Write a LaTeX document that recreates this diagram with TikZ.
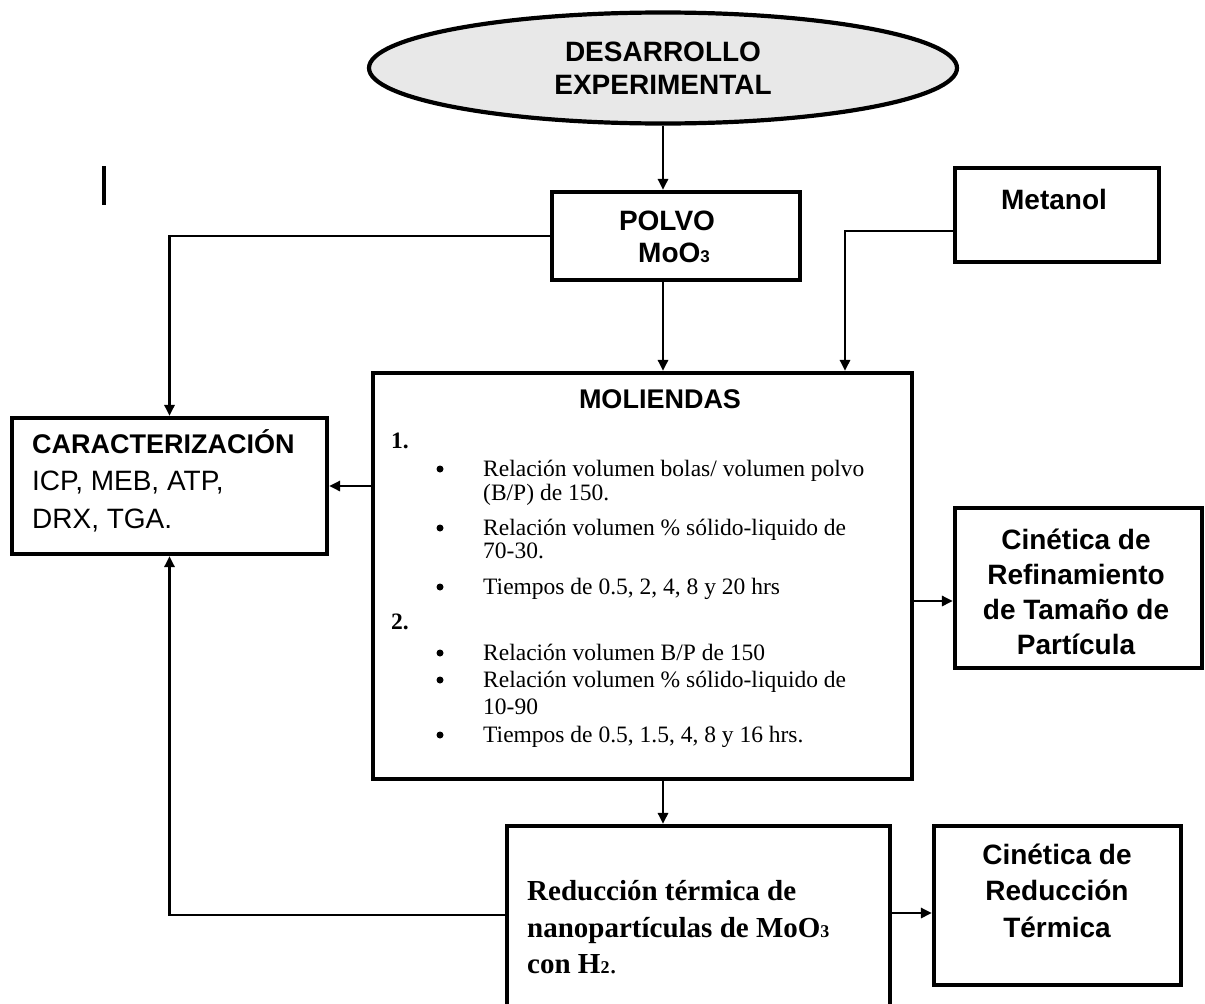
\documentclass[tikz,border=0pt]{standalone}
\usepackage{fontspec}
\setmainfont{Liberation Serif}
\newfontfamily\arialf{Liberation Sans}
\usetikzlibrary{shapes.geometric,arrows.meta}
\definecolor{ellgray}{RGB}{232,232,232}
\tikzset{
  box/.style={draw,line width=4.2pt,rectangle,inner sep=0pt},
  conn/.style={line width=2.8pt,-{Triangle[length=11pt,width=10pt]}},
  hb/.style={font=\fontsize{28}{33}\selectfont\arialf\bfseries,anchor=base,inner sep=0pt},
  hbs/.style={font=\fontsize{27}{33}\selectfont\arialf\bfseries,anchor=base,inner sep=0pt},
  hr/.style={font=\fontsize{28}{33}\selectfont\arialf,anchor=base west,inner sep=0pt},
  lst/.style={font=\fontsize{23.5}{26}\selectfont,anchor=base west,inner sep=0pt},
  bul/.style={circle,fill=black,inner sep=0pt,minimum size=7pt},
  lnum/.style={font=\fontsize{23.5}{26}\selectfont\bfseries,anchor=base west,inner sep=0pt},
  tb/.style={font=\fontsize{29}{33}\selectfont\bfseries,anchor=base west,inner sep=0pt},
}
\begin{document}
\begin{tikzpicture}[x=1pt,y=-1pt]
\useasboundingbox (0,0) rectangle (1205,1004);
\fill[white] (0,0) rectangle (1205,1004);

% stray mark
\draw[line width=4pt] (104,166) -- (104,205);

% ellipse
\node[ellipse,draw,line width=4.2pt,fill=ellgray,minimum width=588pt,minimum height=111pt,inner sep=0pt] (ell) at (663,68) {};
\node[hb] (e1) at (663,61) {DESARROLLO};
\node[hb] (e2) at (663,94) {EXPERIMENTAL};

% POLVO
\node[box,minimum width=248pt,minimum height=88pt] (polvo) at (676,236) {};
\node[hb] (p1) at (667,230) {POLVO};
\node[hb] (p2) at (674,262) {MoO{\fontsize{17}{17}\selectfont 3}};

% Metanol
\node[box,minimum width=204pt,minimum height=94pt] (met) at (1057,215) {};
\node[hb] (m1) at (1054,209) {Metanol};

% MOLIENDAS
\node[box,minimum width=539pt,minimum height=406pt] (mol) at (642.5,576) {};
\node[hbs] (mh) at (660,408) {MOLIENDAS};
\node[lnum] (n1) at (391,448) {1.};
\node[bul] (b1) at (440,469) {};
\node[lst] (l1) at (483,476) {Relación volumen bolas/ volumen polvo};
\node[lst] (l2) at (483,500) {(B/P) de 150.};
\node[bul] (b2) at (440,528) {};
\node[lst] (l3) at (483,535) {Relación volumen \% sólido-liquido de};
\node[lst] (l4) at (483,558) {70-30.};
\node[bul] (b3) at (440,587) {};
\node[lst] (l5) at (483,594) {Tiempos de 0.5, 2, 4, 8 y 20 hrs};
\node[lnum] (n2) at (391,629) {2.};
\node[bul] (b4) at (440,653) {};
\node[lst] (l6) at (483,660) {Relación volumen B/P de 150};
\node[bul] (b5) at (440,680) {};
\node[lst] (l7) at (483,687) {Relación volumen \% sólido-liquido de};
\node[lst] (l8) at (483,714) {10-90};
\node[bul] (b6) at (440,735) {};
\node[lst] (l9) at (483,742) {Tiempos de 0.5, 1.5, 4, 8 y 16 hrs.};

% CARACTERIZACION
\node[box,minimum width=315pt,minimum height=136pt] (car) at (169.5,486) {};
\node[hbs,anchor=base west] (c1) at (32,453) {CARACTERIZACIÓN};
\node[hr] (c2) at (32,490) {ICP, MEB, ATP,};
\node[hr] (c3) at (32,528) {DRX, TGA.};

% Cinetica de refinamiento
\node[box,minimum width=247pt,minimum height=160pt] (cr) at (1078.5,588) {};
\node[hb] (cr1) at (1076,549) {Cinética de};
\node[hb] (cr2) at (1076,584) {Refinamiento};
\node[hb] (cr3) at (1076,619) {de Tamaño de};
\node[hb] (cr4) at (1076,654) {Partícula};

% Reduccion termica
\node[box,minimum width=383pt,minimum height=190pt] (red) at (698.5,921) {};
\node[tb] (r1) at (527,900) {Reducción térmica de};
\node[tb] (r2) at (527,937) {nanopartículas de MoO{\fontsize{18}{18}\selectfont 3}};
\node[tb] (r3) at (527,973) {con H{\fontsize{18}{18}\selectfont 2}{\mdseries.}};

% Cinetica de reduccion
\node[box,minimum width=247pt,minimum height=159pt] (cred) at (1057.5,905.5) {};
\node[hb] (cd1) at (1057,864) {Cinética de};
\node[hb] (cd2) at (1057,900) {Reducción};
\node[hb] (cd3) at (1057,937) {Térmica};

% connectors
\draw[conn] (ell.south) -- (ell.south |- polvo.north);
\draw[conn] (polvo.west) -| (car.north);
\draw[conn] (ell.south |- polvo.south) -- (ell.south |- mol.north);
\draw[conn] ([yshift=-16pt]met.west) -| ([xshift=202.5pt]mol.north);
\draw[conn] (mol.west |- car.east) -- (car.east);
\coordinate (crin) at ([yshift=-13pt]cr.west);
\draw[conn] (mol.east |- crin) -- (crin);
\draw[conn] (ell.south |- mol.south) -- (ell.south |- red.north);
\draw[conn] ([yshift=6pt]red.west) -| (car.south);
\coordinate (cdin) at ([yshift=-7.5pt]cred.west);
\draw[conn] (red.east |- cdin) -- (cdin);
\end{tikzpicture}
\end{document}
